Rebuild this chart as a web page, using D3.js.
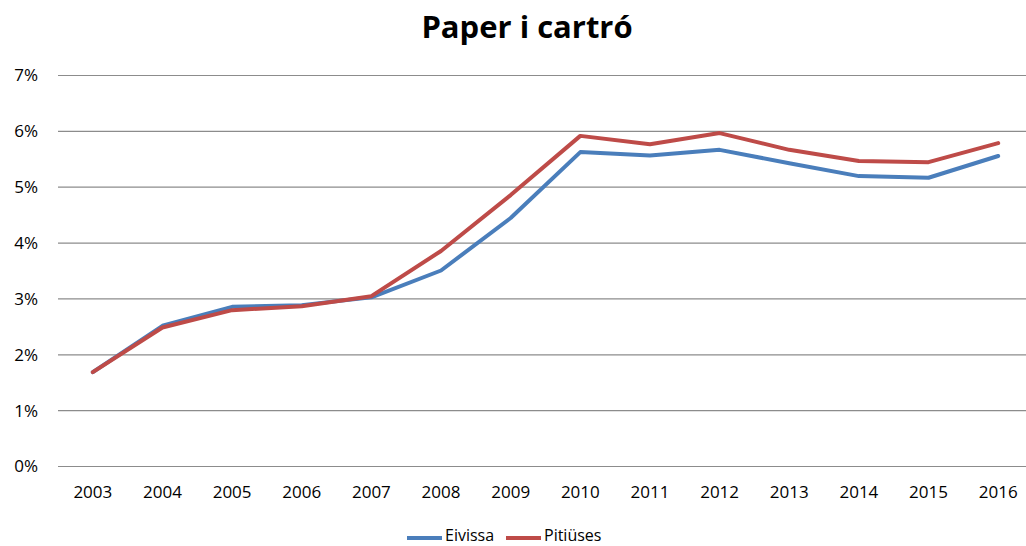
<!DOCTYPE html>
<html><head><meta charset="utf-8">
<script src="https://cdn.jsdelivr.net/npm/d3@7"></script>
<style>body{margin:0;background:#fff}svg{display:block}text{font-family:"Open Sans",sans-serif;fill:#000}</style>
</head><body><svg id="c" width="1026" height="546"></svg>
<script>
const years = ["2003","2004","2005","2006","2007","2008","2009","2010","2011","2012","2013","2014","2015","2016"];
const eivissa = [1.68,2.51,2.85,2.88,3.02,3.50,4.44,5.62,5.56,5.66,5.42,5.19,5.16,5.55];
const pitiuses = [1.68,2.48,2.79,2.86,3.04,3.85,4.85,5.91,5.76,5.96,5.66,5.46,5.44,5.78];
const yTicks = [0,1,2,3,4,5,6,7];
const seriesNames = ["Eivissa","Pitiüses"];
const colors = ["#4A7EBB","#BE4B48"];
const title = "Paper i cartró";

const svg = d3.select("#c");
const L = 58, R = 1033, T = 75, B = 466;
const x = d3.scaleBand().domain(years).range([L, R]);
const y = d3.scaleLinear().domain([0,7]).range([B, T]);

svg.append("text").attr("x", 527).attr("y", 38).attr("text-anchor","middle")
  .style("font-size","31px").style("font-weight","bold").text(title);

const yAxis = svg.append("g").attr("transform",`translate(${L},0)`)
  .call(d3.axisLeft(y).tickValues(yTicks).tickSize(-(1026-L)).tickFormat(d => d + "%"));
yAxis.select(".domain").remove();
yAxis.selectAll(".tick line").attr("stroke","#8c8c8c").attr("stroke-width",1.2);
yAxis.selectAll(".tick text").attr("x",-20).style("font-size","17px").attr("dy","0.35em");

const xAxis = svg.append("g").attr("transform",`translate(0,${B})`)
  .call(d3.axisBottom(x).tickSize(0));
xAxis.select(".domain").remove();
xAxis.selectAll(".tick text").attr("y",20).attr("dy","0.71em").style("font-size","17px");

const line = d3.line().x((d,i) => x(years[i]) + x.bandwidth()/2).y(d => y(d));
[eivissa, pitiuses].forEach((s,k) => {
  svg.append("path").datum(s).attr("d", line).attr("fill","none")
    .attr("stroke", colors[k]).attr("stroke-width",4).attr("stroke-linejoin","round").attr("stroke-linecap","round");
});

const leg = [{x:407, tx:445},{x:506, tx:544}];
seriesNames.forEach((n,k) => {
  svg.append("line").attr("x1",leg[k].x).attr("x2",leg[k].x+35).attr("y1",538).attr("y2",538)
    .attr("stroke",colors[k]).attr("stroke-width",4);
  svg.append("text").attr("x",leg[k].tx).attr("y",535).attr("dy","0.35em").style("font-size","16px").text(n);
});
</script></body></html>
